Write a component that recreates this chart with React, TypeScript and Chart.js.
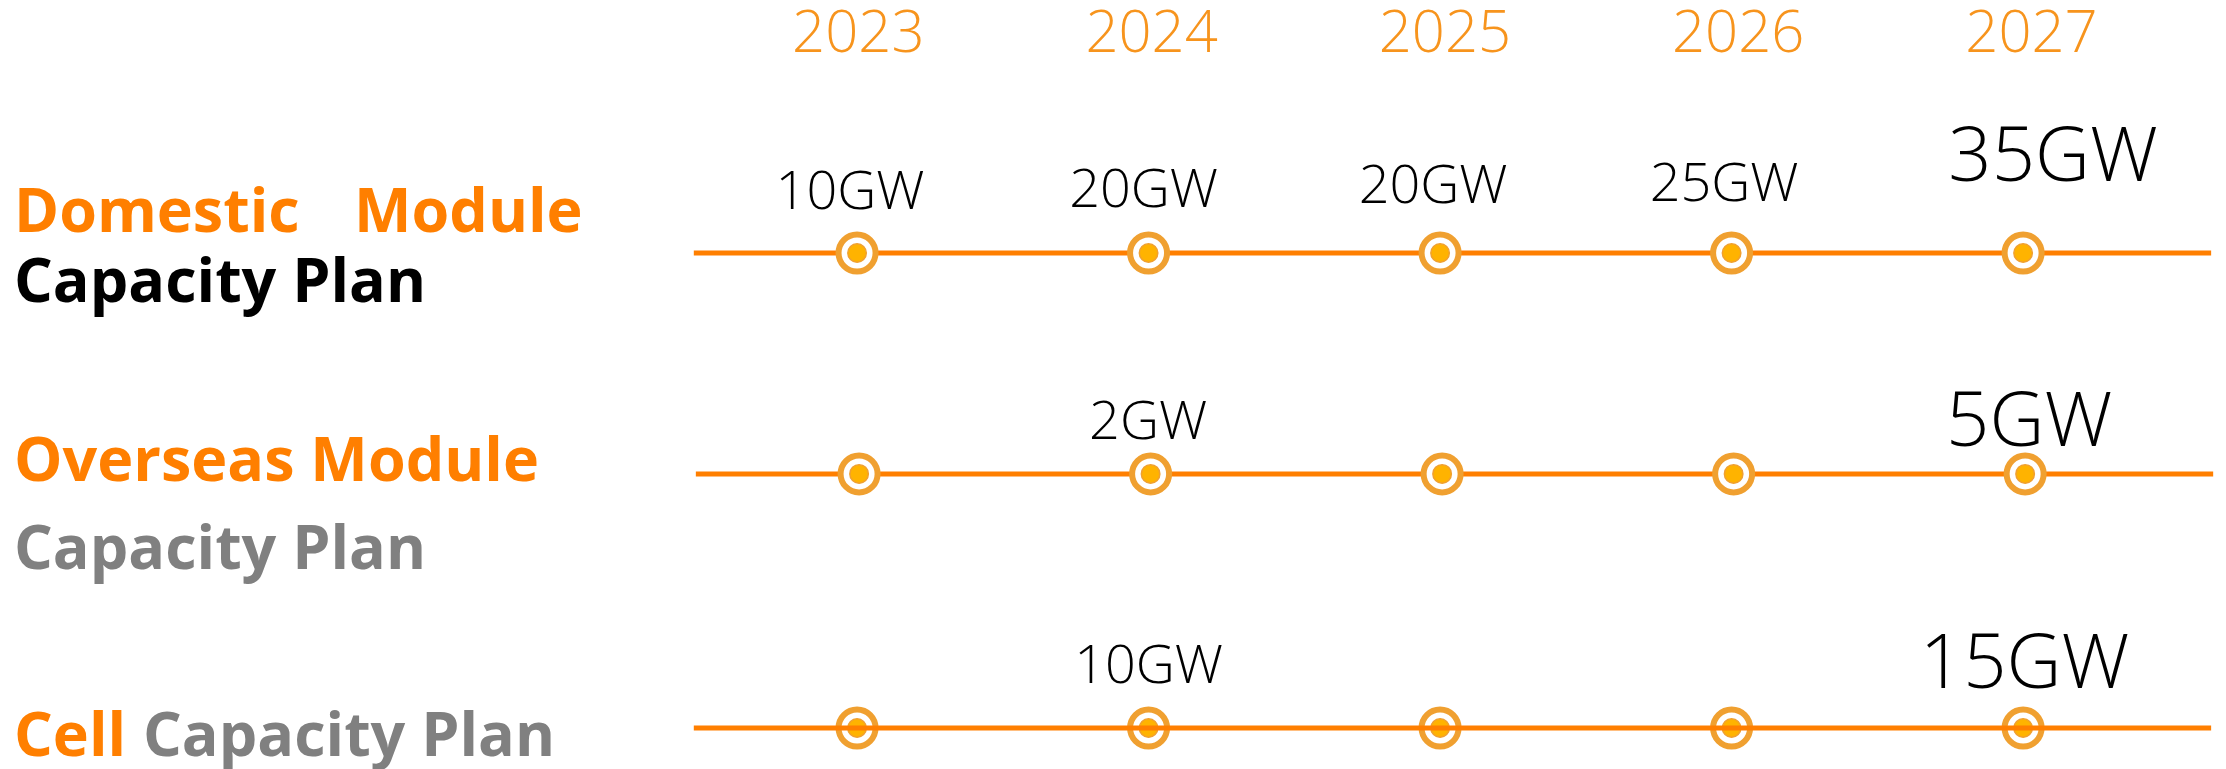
import React, { useEffect, useRef } from 'react';
import { Chart, registerables } from 'chart.js';

Chart.register(...registerables);

// ---------- data ----------
const years = [2023, 2024, 2025, 2026, 2027];
const yearLabels = ['2023', '2024', '2025', '2026', '2027'];
const domesticValues = ['10GW', '20GW', '20GW', '25GW', '35GW'];
const overseasValues = ['', '2GW', '', '', '5GW'];
const cellValues = ['', '10GW', '', '', '15GW'];
const rowValues = [domesticValues, overseasValues, cellValues];
const rowLevels = [3, 2.07, 1]; // domestic, overseas, cell

// ---------- style ----------
const ORANGE_LINE = '#FF7F00';
const ORANGE_TEXT = '#FF7F00';
const YEAR_COLOR = '#F7941D';
const RING_COLOR = '#F0A030';
const DOT_COLOR = '#FFB300';
const GRAY = '#808080';
const FONT = "'Open Sans', 'Noto Sans', sans-serif";

const lineLead = 0.56; // years before first point
const lineTail = 0.645; // years after last point
const rowAxisRanges = [
  { min: 2020.06, max: 2027.696 },
  { min: 2020.053, max: 2027.689 },
  { min: 2020.06, max: 2027.696 },
];
const tickAxisRange = { min: 2020.0736, max: 2027.6631 };
const labelSizes = [54, 54, 54, 54, 76];
const labelLift = [
  [44, 46, 50, 52, 72],
  [0, 35, 0, 0, 28],
  [0, 45, 0, 0, 40],
];
const labelShift = [
  [-7, -5, -7, -7.5, 30],
  [0, -2.5, 0, 0, 4],
  [0, 0, 0, 0, 1.5],
];
const titleSegments = [
  { text: 'Domestic', color: ORANGE_TEXT, x: 14, y: 232 },
  { text: 'Module', color: ORANGE_TEXT, x: 354, y: 232 },
  { text: 'Capacity Plan', color: '#000000', x: 14, y: 302 },
  { text: 'Overseas Module', color: ORANGE_TEXT, x: 14, y: 481 },
  { text: 'Capacity Plan', color: GRAY, x: 14, y: 569 },
  { text: 'Cell', color: ORANGE_TEXT, x: 14, y: 756 },
  { text: 'Capacity Plan', color: GRAY, x: 143, y: 756 },
];

const axisIds = ['x1', 'x2', 'x3'];

export default function App() {
  const canvasRef = useRef<HTMLCanvasElement | null>(null);

  useEffect(() => {
    const canvas = canvasRef.current;
    if (!canvas) return;

    const datasets: any[] = [];
    rowLevels.forEach((level, r) => {
      const lineOnTop = r === 2;
      datasets.push({
        label: 'line' + r,
        data: [
          { x: years[0] - lineLead, y: level },
          { x: years[years.length - 1] + lineTail, y: level },
        ],
        xAxisID: axisIds[r],
        yAxisID: 'y',
        borderColor: ORANGE_LINE,
        borderWidth: 5,
        pointRadius: 0,
        fill: false,
        order: lineOnTop ? 5 : 30,
      });
      datasets.push({
        label: 'ring' + r,
        data: years.map((yr) => ({ x: yr, y: level })),
        xAxisID: axisIds[r],
        yAxisID: 'y',
        showLine: false,
        pointRadius: 18.5,
        pointBorderWidth: 6,
        pointBackgroundColor: '#FFFFFF',
        pointBorderColor: RING_COLOR,
        order: 20,
      });
      datasets.push({
        label: 'dot' + r,
        data: years.map((yr) => ({ x: yr, y: level })),
        xAxisID: axisIds[r],
        yAxisID: 'y',
        showLine: false,
        pointRadius: 9.25,
        pointBorderWidth: 1.5,
        pointBackgroundColor: DOT_COLOR,
        pointBorderColor: RING_COLOR,
        order: 10,
      });
    });

    const labelPlugin = {
      id: 'valueLabels',
      afterDatasetsDraw(chart: any) {
        const ctx = chart.ctx;
        ctx.save();
        ctx.textAlign = 'center';
        ctx.textBaseline = 'alphabetic';
        ctx.fillStyle = '#000000';
        rowValues.forEach((vals, r) => {
          const meta = chart.getDatasetMeta(r * 3 + 1);
          vals.forEach((txt, i) => {
            if (!txt) return;
            const pt = meta.data[i];
            ctx.font = `300 ${labelSizes[i]}px ${FONT}`;
            ctx.fillText(txt, pt.x + labelShift[r][i], pt.y - labelLift[r][i]);
          });
        });
        ctx.restore();
      },
    };

    const titlePlugin = {
      id: 'rowTitles',
      afterDraw(chart: any) {
        const ctx = chart.ctx;
        ctx.save();
        ctx.textAlign = 'left';
        ctx.textBaseline = 'alphabetic';
        ctx.font = `bold 61px ${FONT}`;
        titleSegments.forEach((s) => {
          ctx.fillStyle = s.color;
          ctx.fillText(s.text, s.x, s.y);
        });
        ctx.restore();
      },
    };

    const hiddenAxis = (r: number) => ({
      type: 'linear',
      display: false,
      min: rowAxisRanges[r].min,
      max: rowAxisRanges[r].max,
    });

    const chart = new Chart(canvas, {
      type: 'line',
      data: { datasets },
      options: {
        responsive: false,
        animation: false,
        events: [],
        layout: { padding: 0, autoPadding: false } as any,
        plugins: {
          legend: { display: false },
          tooltip: { enabled: false },
        },
        scales: {
          xt: {
            type: 'linear',
            position: 'top',
            min: tickAxisRange.min,
            max: tickAxisRange.max,
            grid: { display: false, drawTicks: false },
            border: { display: false },
            afterBuildTicks: (axis: any) => {
              axis.ticks = years.map((v) => ({ value: v }));
            },
            afterFit: (axis: any) => {
              axis.height = 70;
            },
            ticks: {
              autoSkip: false,
              maxRotation: 0,
              padding: 0,
              color: YEAR_COLOR,
              font: { family: FONT, size: 58, weight: '300' as any, lineHeight: 1.2 },
              callback: (_v: any, i: number) => yearLabels[i],
            },
          } as any,
          x1: hiddenAxis(0) as any,
          x2: hiddenAxis(1) as any,
          x3: hiddenAxis(2) as any,
          y: {
            type: 'linear',
            display: false,
            min: 0.8274,
            max: 3.7705,
          },
        },
      },
      plugins: [labelPlugin, titlePlugin],
    });

    return () => {
      chart.destroy();
    };
  }, []);

  return (
    <div style={{ position: 'absolute', left: 0, top: 0, width: 2226, height: 769, background: '#fff' }}>
      <canvas ref={canvasRef} width={2226} height={769} style={{ display: 'block' }} />
    </div>
  );
}
